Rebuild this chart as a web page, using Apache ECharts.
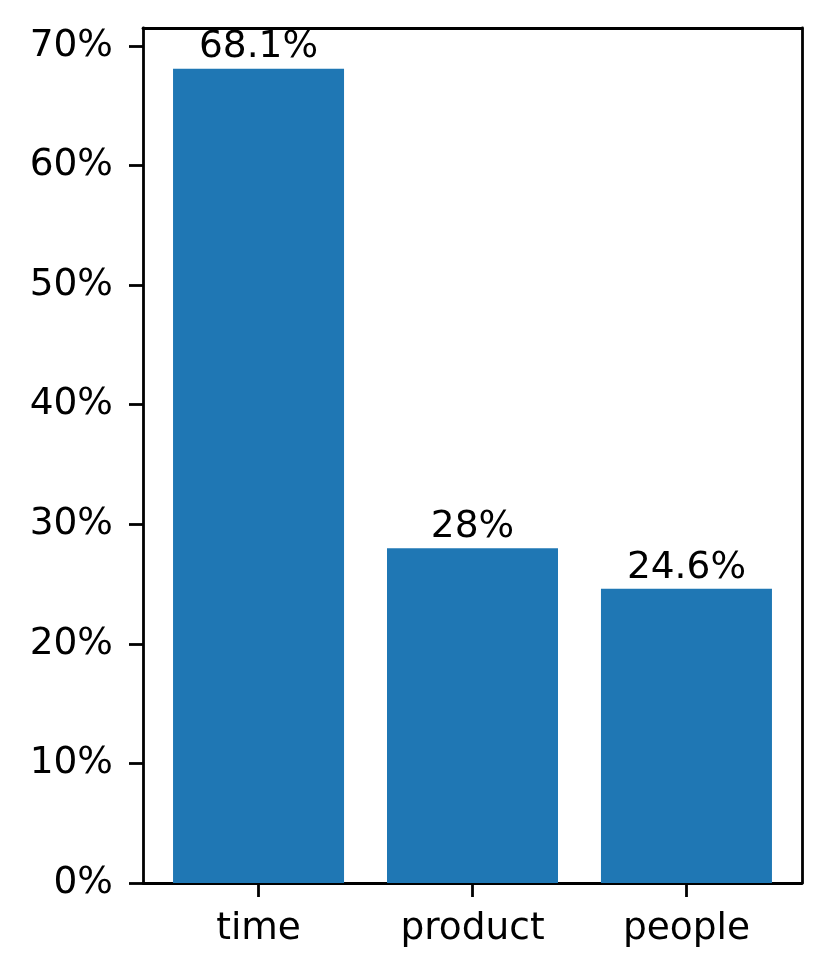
<!DOCTYPE html>
<html>
<head>
<meta charset="utf-8">
<script src="https://cdn.jsdelivr.net/npm/echarts@6/dist/echarts.min.js"></script>
<style>html,body{margin:0;padding:0;background:#fff}#c{width:831px;height:978px}</style>
</head>
<body>
<div id="c"></div>
<script>
const categories = ['time', 'product', 'people'];
const values = [68.1, 28, 24.6];
const yTicks = [0, 10, 20, 30, 40, 50, 60, 70];
const xTicks = [0, 1, 2];

const FONT = 'DejaVu Sans';
const FS = 37.5;
const LW = 2.8;
const frameAxis = {
  axisLine: {show: true, onZero: false, lineStyle: {color: '#000', width: LW}},
  axisTick: {show: false}, axisLabel: {show: false}, splitLine: {show: false}
};
const chart = echarts.init(document.getElementById('c'), null, {renderer: 'canvas'});
chart.setOption({
  animation: false,
  backgroundColor: '#fff',
  grid: {left: 143, right: 29, top: 28, bottom: 95},
  xAxis: [{
    type: 'value', min: -0.54, max: 2.54, position: 'bottom',
    axisLine: {show: true, onZero: false, lineStyle: {color: '#000', width: LW}},
    splitLine: {show: false},
    axisTick: {show: true, customValues: xTicks, length: 14, lineStyle: {color: '#000', width: LW}},
    axisLabel: {customValues: xTicks, margin: 27, color: '#000', fontFamily: FONT, fontSize: FS,
      formatter: v => categories[Math.round(v)] || ''}
  }, Object.assign({type: 'value', min: -0.54, max: 2.54, position: 'top'}, frameAxis)],
  yAxis: [{
    type: 'value', min: 0, max: 71.505, position: 'left',
    axisLine: {show: true, onZero: false, lineStyle: {color: '#000', width: LW}},
    splitLine: {show: false},
    axisTick: {show: true, customValues: yTicks, length: 14, lineStyle: {color: '#000', width: LW}},
    axisLabel: {customValues: yTicks, margin: 30, color: '#000', fontFamily: FONT, fontSize: FS,
      padding: [5, 0, 0, 0], formatter: v => v + '%'}
  }, Object.assign({type: 'value', min: 0, max: 71.505, position: 'right'}, frameAxis)],
  series: [{
    type: 'bar',
    xAxisIndex: 0, yAxisIndex: 0,
    data: values.map((v, i) => [i, v]),
    barWidth: 171,
    itemStyle: {color: '#1f77b4'},
    label: {show: true, position: 'top', distance: 2, color: '#000', fontFamily: FONT, fontSize: FS,
      formatter: p => p.value[1] + '%'}
  }]
});
</script>
</body>
</html>
